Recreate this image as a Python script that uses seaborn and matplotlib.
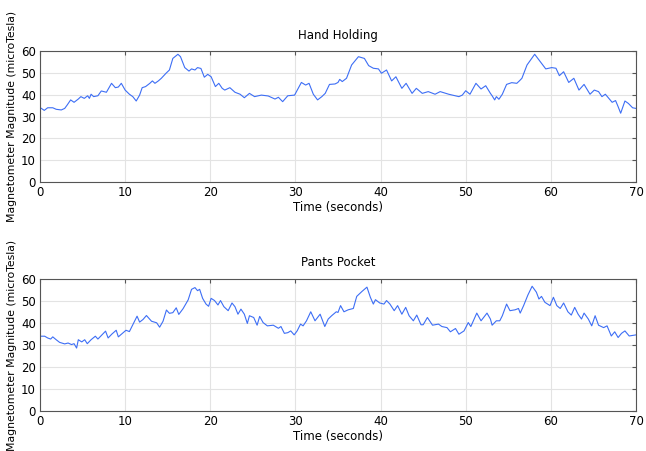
import matplotlib
matplotlib.use("Agg")
import matplotlib.pyplot as plt
import seaborn as sns
import pandas as pd

# ---- data ----
hand_t = [0, 0.05, 0.5, 0.9, 1.5, 1.9, 2.5, 2.9, 3.2, 3.6, 4.0, 4.5, 4.8, 5.2, 5.6, 5.8,
          6.0, 6.3, 6.8, 7.2, 7.8, 8.4, 8.85, 9.2, 9.55, 10.0, 10.5, 10.9, 11.3, 11.7,
          12.0, 12.4, 12.9, 13.2, 13.5, 13.9, 14.25, 14.8, 15.2, 15.6, 16.2, 16.5, 17.0,
          17.5, 17.8, 18.2, 18.5, 18.9, 19.3, 19.7, 20.1, 20.6, 21.0, 21.4, 21.7, 22.3,
          22.9, 23.5, 24.0, 24.6, 25.2, 26.0, 26.8, 27.6, 28.0, 28.5, 29.1, 29.9, 30.7,
          31.2, 31.6, 32.1, 32.6, 33.1, 33.5, 34.0, 34.65, 35.0, 35.2, 35.5, 36.0, 36.6,
          37.4, 38.1, 38.6, 39.15, 39.75, 40.1, 40.7, 41.3, 41.8, 42.5, 43.0, 43.7, 44.2,
          44.9, 45.6, 46.4, 47.0, 48.0, 49.2, 49.6, 50.0, 50.5, 51.2, 51.8, 52.35, 52.9,
          53.1, 53.4, 53.6, 53.9, 54.3, 54.8, 55.4, 56.0, 56.3, 56.6, 57.2, 58.1, 58.6,
          59.4, 60.1, 60.6, 61.0, 61.5, 62.1, 62.7, 63.3, 63.9, 64.6, 65.1, 65.6, 66.0,
          66.4, 67.2, 67.6, 67.9, 68.2, 68.7, 69.1, 69.6, 70.0]
hand_v = [0, 34, 32.8, 34, 34, 33.3, 33, 33.7, 35.3, 37.6, 36.5, 38, 39.1, 38.3, 39.5, 38.3,
          40.2, 39.1, 39.5, 41.7, 41.1, 45.2, 43.2, 43.5, 45.2, 42.1, 40.2, 39.1, 37.1, 39.8,
          43.2, 43.7, 45.2, 46.3, 45.2, 46.3, 47.5, 49.8, 51.3, 56.6, 58.5, 57.4, 52.4,
          50.8, 51.8, 51.3, 52.4, 52, 48, 49.3, 48.2, 43.7, 45.2, 42.9, 42.1, 43.2,
          41.1, 40.2, 38.6, 40.6, 39.1, 39.8, 39.4, 38, 38.8, 36.8, 39.5, 39.8, 45.6,
          44.4, 45.2, 40.2, 37.6, 39.1, 40.6, 44.7, 44.9, 45.6, 47, 46, 47.5, 53.6,
          57.4, 56.6, 53.3, 52.1, 51.8, 49.8, 51.3, 46.3, 48.2, 42.9, 45.2, 40.6, 42.9,
          40.6, 41.4, 40.2, 41.4, 40.2, 39.1, 39.8, 41.8, 40.2, 45.2, 42.6, 44.1, 40.6,
          39.5, 37.6, 39.1, 37.9, 40.2, 44.7, 45.5, 45.2, 46.3, 47.5, 53.6, 58.5, 55.9,
          51.8, 52.4, 52.1, 48.7, 50.5, 45.6, 47.5, 42.1, 44.7, 40.2, 42.1, 41.4, 39.1,
          40.2, 36.5, 37.3, 34.5, 31.5, 37.1, 36, 34, 33.7]

pocket_t = [0, 0.05, 0.55, 0.9, 1.25, 1.5, 1.9, 2.3, 2.9, 3.3, 3.7, 4.0, 4.3, 4.5, 4.9,
            5.25, 5.55, 6.0, 6.5, 6.8, 7.3, 7.7, 8.0, 8.45, 8.95, 9.2, 9.75, 10.1, 10.5,
            11.1, 11.4, 11.7, 12.1, 12.5, 13.1, 13.7, 14.05, 14.45, 14.85, 15.2, 15.6,
            16.0, 16.3, 16.8, 17.4, 17.8, 18.2, 18.5, 18.75, 19.1, 19.5, 19.8, 20.1, 20.5,
            20.9, 21.2, 21.6, 22.1, 22.55, 22.9, 23.25, 23.6, 24.0, 24.35, 24.6, 25.1,
            25.5, 25.8, 26.2, 26.7, 27.4, 28.0, 28.3, 28.7, 29.1, 29.45, 29.85, 30.2,
            30.6, 30.9, 31.3, 31.8, 32.3, 32.9, 33.45, 33.85, 34.25, 34.8, 35.0, 35.3,
            35.7, 36.2, 36.8, 37.2, 37.8, 38.4, 38.8, 39.15, 39.4, 39.9, 40.4, 40.7, 41.1,
            41.6, 42.0, 42.5, 42.95, 43.35, 43.85, 44.25, 44.75, 45.0, 45.5, 46.1, 46.8,
            47.2, 47.8, 48.2, 48.8, 49.2, 49.8, 50.3, 50.6, 51.3, 51.8, 52.5, 52.9, 53.1,
            53.6, 54.0, 54.3, 54.8, 55.2, 55.8, 56.2, 56.4, 56.8, 57.3, 57.8, 58.3, 58.6,
            58.9, 59.3, 59.9, 60.3, 60.7, 61.1, 61.5, 62.0, 62.4, 62.8, 63.2, 63.6, 63.9,
            64.4, 64.8, 65.2, 65.6, 66.2, 66.6, 67.1, 67.5, 67.9, 68.3, 68.7, 69.2, 69.7,
            70.0]
pocket_v = [0, 34, 34, 33.2, 32.7, 33.7, 32.4, 31.2, 30.5, 30.9, 30.2, 30.6, 28.6, 32.4, 31.4,
            32.4, 30.6, 32.4, 34, 32.7, 34.7, 36.3, 33.2, 35, 36.7, 33.7, 35.5, 36.7, 36.1,
            40.8, 43.1, 40.4, 41.6, 43.4, 40.8, 40.1, 38.1, 40.8, 45.9, 44.4, 44.7,
            46.9, 43.9, 46.5, 50.5, 55.3, 56.1, 54.7, 55.3, 51.2, 48.6, 47.6, 51.2, 50.2,
            48.2, 50.2, 47.4, 45.6, 49.1, 47.4, 44, 46.3, 44, 39.8, 43.3, 42.5,
            39, 43, 40.2, 38.7, 39, 37.6, 38.4, 35.3, 35.6, 36.4, 34.6, 36.4,
            39.5, 38.7, 41, 45.1, 41, 44, 38.4, 41.8, 43.3, 45.1, 44.8, 47.9,
            45.1, 46, 46.6, 52.1, 54.3, 56.3, 51.7, 48.6, 50.6, 49.1, 48.6, 50.2, 48.6,
            45.6, 47.9, 44, 47.1, 43.3, 41, 43.6, 39.2, 39.2, 42.5, 39, 39.5,
            38.4, 37.9, 36, 37.5, 34.9, 36.4, 40.2, 38.4, 44.5, 41, 44.5, 41.8, 39,
            41, 41, 43.3, 48.6, 45.6, 46, 46.6, 44.5, 47.9, 52.7, 56.7, 54, 50.9,
            52.1, 49.4, 47.9, 51.7, 47.9, 46.6, 49.1, 45.1, 43.6, 47.1, 44, 41.8, 44.5,
            41.8, 38.7, 43.3, 39, 37.9, 38.7, 34.1, 36, 33.4, 35.3, 36.4, 34.1, 34.4,
            34.6]

titles = ["Hand Holding", "Pants Pocket"]
x_ticks = [0, 10, 20, 30, 40, 50, 60, 70]
y_ticks = [0, 10, 20, 30, 40, 50, 60]
x_label = "Time (seconds)"
y_label = "Magnetometer Magnitude (microTesla)"

sns.set_style("whitegrid")
plt.rcParams["font.family"] = ["DejaVu Sans"]
plt.rcParams["text.color"] = "black"
plt.rcParams["axes.labelcolor"] = "black"

W, H = 646, 451
fig = plt.figure(figsize=(W / 100, H / 100), dpi=100)

boxes = [(40, 51, 636, 182), (40, 279, 636, 411)]
series = [(hand_t, hand_v), (pocket_t, pocket_v)]
line_col = "#3d6ef5"

for (l, t, r, b), (ts, vs), title in zip(boxes, series, titles):
    ax = fig.add_axes([l / W, 1 - b / H, (r - l) / W, (b - t) / H])
    df = pd.DataFrame({"t": ts, "v": vs})
    sns.lineplot(data=df, x="t", y="v", ax=ax, estimator=None, sort=False,
                 color=line_col, linewidth=0.8)
    ax.set_xlim(0, 70)
    ax.set_ylim(0, 60)
    ax.set_xticks(x_ticks)
    ax.set_yticks(y_ticks)
    ax.grid(True, color="#e3e3e3", linewidth=0.8)
    ax.set_facecolor("white")
    for s in ax.spines.values():
        s.set_visible(True)
        s.set_color("#555555")
        s.set_linewidth(0.8)
    ax.tick_params(direction="in", length=3, width=0.8, color="#555555",
                   top=True, right=True, labelsize=8.5, pad=3, labelcolor="black")
    ax.set_title(title, fontsize=8.5, pad=9, color="black")
    ax.set_xlabel(x_label, fontsize=8.5, labelpad=1, color="black")
    ax.set_ylabel(y_label, fontsize=7.8, labelpad=3, color="black")

fig.savefig("out.png", dpi=100, facecolor="white")
